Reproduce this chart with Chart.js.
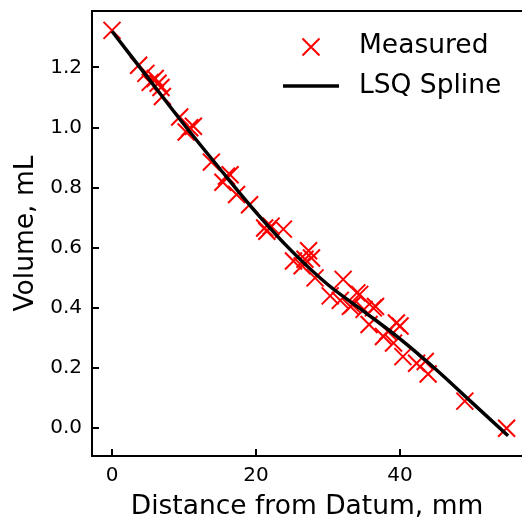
<!DOCTYPE html>
<html>
<head>
<meta charset="utf-8">
<script src="https://cdn.jsdelivr.net/npm/chart.js@4/dist/chart.umd.min.js"></script>
<style>
html,body{margin:0;padding:0;background:#fff;overflow:hidden;}
#wrap{width:522px;height:521px;}
</style>
</head>
<body>
<div id="wrap"><canvas id="c" width="522" height="521"></canvas></div>
<script>
// Measured data (distance mm, volume mL)
const measuredX = [0.0, 3.7, 4.7, 5.3, 6.0, 6.4, 6.8, 7.0, 9.4, 10.3, 10.8, 11.3, 13.8, 15.4, 15.9, 16.4, 17.3, 19.1,
  21.2, 21.5, 22.1, 23.8, 25.2, 26.4, 26.8, 27.3, 27.7, 28.2, 30.3, 31.7, 32.1, 33.1, 33.4, 34.0, 34.4, 35.0,
  35.7, 36.3, 36.6, 37.7, 38.3, 39.1, 39.5, 40.0, 40.4, 42.3, 43.5, 43.9, 49.0, 54.8];
const measuredY = [1.323, 1.207, 1.180, 1.150, 1.163, 1.147, 1.133, 1.103, 1.035, 0.985, 0.999, 1.004, 0.885, 0.818, 0.838, 0.843, 0.777, 0.743,
  0.666, 0.655, 0.672, 0.662, 0.556, 0.540, 0.562, 0.590, 0.566, 0.500, 0.440, 0.425, 0.495, 0.405, 0.410, 0.450, 0.445, 0.395,
  0.345, 0.400, 0.405, 0.305, 0.322, 0.283, 0.350, 0.340, 0.238, 0.216, 0.222, 0.180, 0.090, 0.000];
// LSQ spline fit samples
const splineX = [0, 5, 10, 15, 20, 25, 30, 35, 40, 45, 50, 55];
const splineY = [1.320, 1.165, 1.010, 0.862, 0.718, 0.588, 0.477, 0.388, 0.297, 0.195, 0.085, -0.025];
// Ticks
const xTickValues = [0, 20, 40];
const yTickValues = [0.0, 0.2, 0.4, 0.6, 0.8, 1.0, 1.2];
const labels = ['Measured', 'LSQ Spline'];

const FONT = "'DejaVu Sans', sans-serif";

// axes frame: left, top, bottom (right spine lies beyond the visible figure)
const framePlugin = {
  id: 'frame',
  afterDatasetsDraw(chart) {
    const {ctx, chartArea: a} = chart;
    ctx.save();
    ctx.strokeStyle = '#000';
    ctx.lineWidth = 2;
    ctx.beginPath();
    ctx.moveTo(chart.width + 5, a.top);
    ctx.lineTo(a.left, a.top);
    ctx.lineTo(a.left, a.bottom);
    ctx.lineTo(chart.width + 5, a.bottom);
    ctx.stroke();
    ctx.restore();
  }
};

const legendPlugin = {
  id: 'mplLegend',
  afterDraw(chart) {
    const {ctx} = chart;
    const ds = chart.data.datasets;
    const m = ds.find(d => d.label === 'Measured');
    const s = ds.find(d => d.label === 'LSQ Spline');
    ctx.save();
    const mx = 311, my = 47, h = 8.5;
    ctx.strokeStyle = m.borderColor; ctx.lineWidth = 2;
    ctx.beginPath();
    ctx.moveTo(mx - h, my - h); ctx.lineTo(mx + h, my + h);
    ctx.moveTo(mx - h, my + h); ctx.lineTo(mx + h, my - h);
    ctx.stroke();
    ctx.strokeStyle = s.borderColor; ctx.lineWidth = s.borderWidth;
    ctx.beginPath(); ctx.moveTo(283, 86); ctx.lineTo(339, 86); ctx.stroke();
    ctx.fillStyle = '#000';
    ctx.font = '26.5px ' + FONT;
    ctx.textBaseline = 'middle';
    ctx.textAlign = 'left';
    ctx.fillText(m.label, 359, 46);
    ctx.fillText(s.label, 359, 86);
    ctx.restore();
  }
};

function zeroPad(sc) { sc.paddingTop = 0; sc.paddingBottom = 0; sc.paddingLeft = 0; sc.paddingRight = 0; }

new Chart(document.getElementById('c'), {
  type: 'scatter',
  data: {
    datasets: [
      {
        label: labels[0],
        data: measuredX.map((x, i) => ({x: x, y: measuredY[i]})),
        pointStyle: 'crossRot',
        pointRadius: 12,
        pointHoverRadius: 12,
        borderColor: '#ff0000',
        backgroundColor: '#ff0000',
        pointBorderWidth: 2,
        borderWidth: 2,
        showLine: false,
        order: 2
      },
      {
        type: 'line',
        label: labels[1],
        data: splineX.map((x, i) => ({x: x, y: splineY[i]})),
        borderColor: '#000000',
        backgroundColor: '#000000',
        borderWidth: 3.5,
        pointRadius: 0,
        cubicInterpolationMode: 'monotone',
        fill: false,
        order: 1
      }
    ]
  },
  options: {
    responsive: false,
    animation: false,
    devicePixelRatio: 1,
    layout: {autoPadding: false, padding: {top: 11, right: 0, left: 0, bottom: 0}},
    plugins: {legend: {display: false}, tooltip: {enabled: false}},
    scales: {
      x: {
        type: 'linear',
        position: 'bottom',
        min: -2.78,
        max: 56.94,
        afterBuildTicks: (sc) => { sc.ticks = xTickValues.map(v => ({value: v})); },
        afterFit: (sc) => { sc.height = 65; zeroPad(sc); },
        grid: {display: true, drawOnChartArea: false, drawTicks: true, tickLength: -7, color: '#000', lineWidth: 2},
        border: {display: false},
        ticks: {color: '#000', font: {family: FONT, size: 20}, padding: 15, maxRotation: 0,
                callback: (v) => String(v)},
        title: {display: true, text: 'Distance from Datum, mm', color: '#000',
                font: {family: FONT, size: 26.5, lineHeight: 1}, padding: {top: 0, bottom: 1}}
      },
      y: {
        type: 'linear',
        position: 'left',
        min: -0.0925,
        max: 1.3875,
        afterBuildTicks: (sc) => { sc.ticks = yTickValues.map(v => ({value: v})); },
        afterFit: (sc) => { sc.width = 92; zeroPad(sc); },
        grid: {display: true, drawOnChartArea: false, drawTicks: true, tickLength: -7, color: '#000', lineWidth: 2},
        border: {display: false},
        ticks: {color: '#000', font: {family: FONT, size: 20}, padding: 17,
                callback: (v) => Number(v).toFixed(1)},
        title: {display: true, text: 'Volume, mL', color: '#000',
                font: {family: FONT, size: 26.5, lineHeight: 1}, padding: {top: 13, bottom: 0}}
      }
    }
  },
  plugins: [framePlugin, legendPlugin]
});
</script>
</body>
</html>
